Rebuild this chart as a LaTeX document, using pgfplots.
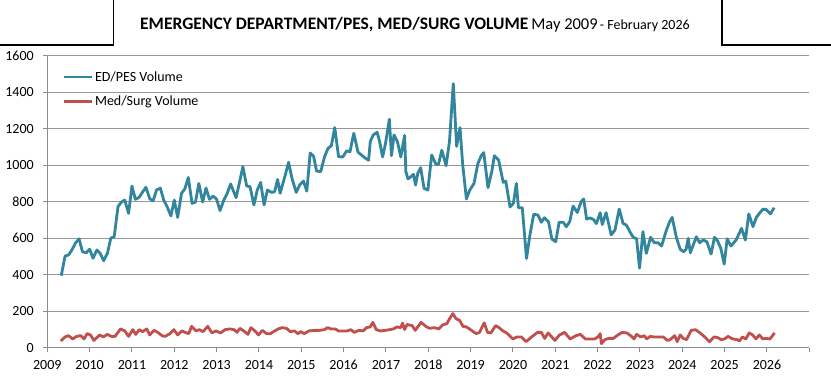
\documentclass[border=0pt]{standalone}
\usepackage{fontspec}
\setmainfont{Carlito}
\usepackage{pgfplots}
\usepackage{pgfplotstable}
\pgfplotsset{compat=1.18}
\definecolor{edteal}{HTML}{31859C}
\definecolor{msred}{HTML}{C0504D}
\definecolor{gridgray}{HTML}{989898}
\definecolor{axisgray}{HTML}{8C8C8C}

\pgfplotstableread{
year val
2009.33 395
2009.42 502
2009.50 508
2009.58 535
2009.67 575
2009.75 597
2009.83 526
2009.92 520
2010.00 540
2010.08 490
2010.17 535
2010.25 517
2010.33 477
2010.42 517
2010.50 600
2010.58 608
2010.67 773
2010.75 798
2010.83 809
2010.92 736
2011.00 886
2011.08 813
2011.17 824
2011.25 853
2011.33 879
2011.42 816
2011.50 805
2011.58 864
2011.67 875
2011.75 809
2011.83 773
2011.92 722
2012.00 809
2012.08 714
2012.17 846
2012.25 871
2012.33 933
2012.42 791
2012.50 798
2012.58 900
2012.67 798
2012.75 875
2012.83 813
2012.92 831
2013.00 813
2013.08 751
2013.17 809
2013.25 846
2013.33 897
2013.46 822
2013.54 906
2013.62 992
2013.71 886
2013.79 882
2013.88 782
2013.96 864
2014.04 906
2014.12 782
2014.20 864
2014.30 851
2014.37 855
2014.44 922
2014.50 846
2014.61 937
2014.70 1016
2014.78 928
2014.88 851
2014.96 891
2015.05 913
2015.13 858
2015.21 1067
2015.29 1049
2015.36 968
2015.46 965
2015.55 1047
2015.63 1092
2015.71 1107
2015.79 1206
2015.88 1047
2015.98 1045
2016.07 1078
2016.15 1074
2016.24 1175
2016.34 1071
2016.42 1056
2016.50 1041
2016.59 1027
2016.63 1130
2016.70 1166
2016.79 1180
2016.85 1130
2016.92 1045
2016.99 1120
2017.08 1252
2017.13 1052
2017.19 1166
2017.27 1130
2017.35 1045
2017.44 1163
2017.47 965
2017.52 925
2017.58 935
2017.65 950
2017.70 891
2017.75 955
2017.82 986
2017.90 873
2017.99 864
2018.08 1056
2018.18 1005
2018.24 1005
2018.32 1082
2018.42 997
2018.50 1129
2018.59 1447
2018.67 1103
2018.75 1206
2018.81 1010
2018.90 815
2018.98 864
2019.08 900
2019.17 1008
2019.25 1052
2019.31 1069
2019.41 877
2019.50 965
2019.56 1052
2019.66 1029
2019.77 906
2019.83 913
2019.93 771
2020.01 791
2020.08 900
2020.13 767
2020.22 767
2020.32 489
2020.40 617
2020.49 731
2020.59 727
2020.67 687
2020.74 712
2020.84 690
2020.92 595
2021.01 581
2021.09 687
2021.19 687
2021.26 663
2021.34 690
2021.42 776
2021.52 741
2021.61 800
2021.67 815
2021.74 705
2021.82 711
2021.90 703
2021.97 680
2022.06 740
2022.11 675
2022.20 740
2022.32 618
2022.41 645
2022.51 760
2022.60 681
2022.68 672
2022.76 636
2022.84 605
2022.92 597
2022.99 436
2023.07 636
2023.15 517
2023.25 605
2023.34 575
2023.43 575
2023.51 557
2023.62 641
2023.70 690
2023.76 714
2023.86 605
2023.95 539
2024.03 526
2024.09 539
2024.14 599
2024.19 520
2024.25 557
2024.33 608
2024.41 575
2024.49 590
2024.58 581
2024.68 513
2024.76 605
2024.83 587
2024.91 544
2024.99 458
2025.06 597
2025.15 557
2025.27 590
2025.40 654
2025.49 590
2025.57 733
2025.67 663
2025.75 714
2025.82 736
2025.90 758
2025.98 758
2026.08 733
2026.17 767
}\edtable

\pgfplotstableread{
year val
2009.32 37
2009.42 59
2009.50 66
2009.60 48
2009.69 62
2009.79 66
2009.87 48
2009.94 77
2010.02 70
2010.10 40
2010.24 70
2010.32 59
2010.42 73
2010.51 62
2010.60 62
2010.73 103
2010.83 92
2010.92 62
2011.02 99
2011.09 73
2011.17 99
2011.25 88
2011.35 103
2011.42 70
2011.52 95
2011.61 84
2011.71 66
2011.78 62
2011.90 77
2011.99 99
2012.08 70
2012.18 92
2012.26 84
2012.34 77
2012.41 117
2012.51 92
2012.59 99
2012.68 88
2012.79 117
2012.89 81
2012.98 92
2013.09 81
2013.20 99
2013.31 103
2013.41 99
2013.48 84
2013.55 106
2013.64 92
2013.74 73
2013.81 110
2013.89 95
2013.99 70
2014.08 95
2014.18 77
2014.27 77
2014.37 92
2014.46 103
2014.55 110
2014.65 106
2014.74 88
2014.84 92
2014.92 77
2014.99 88
2015.07 77
2015.18 92
2015.31 95
2015.43 95
2015.55 99
2015.62 110
2015.70 103
2015.80 103
2015.88 92
2015.98 92
2016.08 92
2016.17 99
2016.25 84
2016.36 95
2016.46 92
2016.54 110
2016.63 114
2016.69 139
2016.77 99
2016.87 92
2016.98 95
2017.09 99
2017.18 103
2017.26 114
2017.35 110
2017.39 135
2017.44 100
2017.50 127
2017.62 121
2017.69 95
2017.83 139
2017.94 117
2018.03 106
2018.14 110
2018.25 103
2018.34 125
2018.44 132
2018.49 154
2018.58 187
2018.66 158
2018.74 150
2018.82 117
2018.90 114
2018.97 103
2019.13 77
2019.21 84
2019.32 136
2019.40 84
2019.48 81
2019.59 121
2019.67 110
2019.76 92
2019.85 81
2020.00 48
2020.09 59
2020.20 59
2020.31 33
2020.44 59
2020.58 84
2020.67 84
2020.75 51
2020.83 81
2020.99 40
2021.10 70
2021.22 84
2021.35 48
2021.49 66
2021.59 73
2021.71 48
2021.81 48
2021.93 48
2022.01 59
2022.06 77
2022.09 22
2022.17 44
2022.26 51
2022.37 51
2022.48 70
2022.58 84
2022.69 81
2022.78 66
2022.86 48
2022.92 73
2023.02 59
2023.10 66
2023.16 48
2023.24 62
2023.33 59
2023.44 59
2023.55 59
2023.65 40
2023.71 44
2023.82 66
2023.88 33
2023.95 70
2024.02 51
2024.10 44
2024.21 95
2024.31 99
2024.42 81
2024.53 59
2024.64 33
2024.75 59
2024.84 55
2024.92 44
2025.00 48
2025.08 62
2025.19 48
2025.30 44
2025.35 37
2025.42 59
2025.50 48
2025.58 81
2025.66 70
2025.74 48
2025.82 70
2025.90 48
2025.98 51
2026.07 48
2026.18 81
}\mstable

\begin{document}
\begin{tikzpicture}[x=1pt,y=1pt]
\useasboundingbox (0,0) rectangle (831,384);
\fill[white] (0,0) rectangle (831,384);
\draw[line width=1.3pt] (0,339) -- (113.5,339) -- (113.5,384);
\draw[line width=1.3pt] (722,384) -- (722,339) -- (831,339);
\node[anchor=base west, inner sep=0pt] at (140,355) {{\fontsize{17.5}{20}\selectfont\bfseries EMERGENCY DEPARTMENT/PES, MED/SURG VOLUME}\hspace{3pt}{\fontsize{16.5}{20}\selectfont May 2009} {\fontsize{14}{17}\selectfont - February 2026}};
\begin{axis}[
  at={(47.3pt,36.3pt)}, anchor=south west,
  scale only axis, width=762pt, height=292pt,
  xmin=2009, xmax=2027, ymin=0, ymax=1600,
  axis lines=left,
  axis line style={-, draw=axisgray, line width=1.1pt},
  xtick={2009,2010,...,2027},
  xticklabels={2009,2010,2011,2012,2013,2014,2015,2016,2017,2018,2019,2020,2021,2022,2023,2024,2025,2026,},
  ytick={0,200,...,1600},
  ymajorgrids,
  grid style={draw=gridgray, line width=1.1pt},
  tick style={draw=axisgray, line width=1pt},
  major tick length=4pt,
  tick align=outside,
  /pgf/number format/assume math mode=true,
  /pgf/number format/1000 sep={},
  ticklabel style={font=\fontsize{14}{16}\selectfont, text=black},
  yticklabel style={xshift=-6pt},
  xticklabel style={yshift=-5pt},
  legend style={at={(0.02,0.952)}, anchor=north west, draw=none, fill=none,
    font=\fontsize{14}{16}\selectfont, row sep=10.5pt, inner sep=0pt,
    nodes={inner sep=1.5pt}},
  legend cell align=left,
  legend image code/.code={\draw[#1] (0pt,0pt) -- (28pt,0pt);},
]
\addplot[edteal, line width=2.8pt, line join=round] table[x=year, y=val] {\edtable};
\addlegendentry{ED/PES Volume}
\addplot[msred, line width=2.8pt, line join=round] table[x=year, y=val] {\mstable};
\addlegendentry{Med/Surg Volume}
\end{axis}
\end{tikzpicture}
\end{document}
